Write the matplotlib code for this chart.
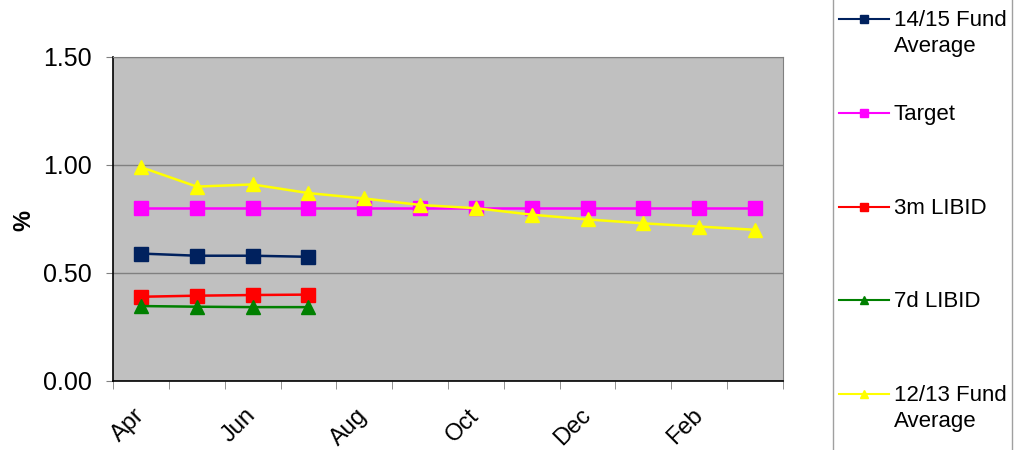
import matplotlib
matplotlib.use("Agg")
import matplotlib.pyplot as plt
from matplotlib.lines import Line2D
from matplotlib.patches import Rectangle
import numpy as np

plt.rcParams['font.family'] = ['Liberation Sans', 'DejaVu Sans']

months = ["Apr", "May", "Jun", "Jul", "Aug", "Sep", "Oct", "Nov", "Dec", "Jan", "Feb", "Mar"]
fund_1415 = [0.59, 0.58, 0.58, 0.575]
target = [0.80] * 12
libid_3m = [0.39, 0.395, 0.398, 0.40]
libid_7d = [0.347, 0.344, 0.342, 0.342]
fund_1213 = [0.99, 0.90, 0.91, 0.87, 0.845, 0.815, 0.80, 0.77, 0.748, 0.73, 0.715, 0.70]

labels = ["14/15 Fund\nAverage", "Target", "3m LIBID", "7d LIBID", "12/13 Fund\nAverage"]
series = [fund_1415, target, libid_3m, libid_7d, fund_1213]
colors = ["#00215E", "#FF00FF", "#FF0000", "#008000", "#FFFF00"]
markers = ["s", "s", "s", "^", "^"]

W, H = 1015, 450
fig = plt.figure(figsize=(W / 100, H / 100), dpi=100)
ax = fig.add_axes([113 / W, 1 - 381 / H, 670 / W, 324 / H])
ax.set_facecolor("#C0C0C0")

for vals, c, m in zip(series, colors, markers):
    x = np.arange(len(vals))
    ax.plot(x, vals, color=c, marker=m, markersize=10, linewidth=1.8,
            markeredgecolor=c)

ax.set_xlim(-0.5, 11.5)
ax.set_ylim(0, 1.5)
ax.set_yticks([0, 0.5, 1.0, 1.5])
ax.set_yticklabels(["0.00", "0.50", "1.00", "1.50"], fontsize=18)
ax.yaxis.grid(True, color="#808080", linewidth=1)
ax.set_axisbelow(True)

ax.set_xticks(np.arange(0, 12, 2))
ax.set_xticklabels(months[::2], fontsize=17, rotation=45, ha="right",
                   va="center", rotation_mode="anchor")
ax.set_xticks(np.arange(-0.5, 12, 1), minor=True)
ax.tick_params(axis="x", which="major", length=0, pad=22.5)
ax.tick_params(axis="x", which="minor", length=6, color="#808080", direction="out")
ax.tick_params(axis="y", length=5, color="#808080", pad=10.5)

for s in ["top", "right"]:
    ax.spines[s].set_color("#808080")
for s in ["left", "bottom"]:
    ax.spines[s].set_color("black")
    ax.spines[s].set_linewidth(1.2)

fig.text(24 / W, 1 - 220 / H, "%", rotation=90, ha="center", va="center",
         fontsize=17, fontweight="bold")

# legend drawn by hand so markers line up with the first text line
fig.add_artist(Rectangle((833 / W, -0.02), 179 / W, 1.04, transform=fig.transFigure,
                         facecolor="white", edgecolor="#A0A0A0", linewidth=1))
leg_y = [19, 113, 207, 300, 394]
for lab, c, m, y in zip(labels, colors, markers, leg_y):
    yf = 1 - y / H
    fig.add_artist(Line2D([839 / W, 889 / W], [yf, yf], transform=fig.transFigure,
                          color=c, linewidth=1.5))
    fig.add_artist(Line2D([864 / W], [yf], transform=fig.transFigure, color=c,
                          marker=m, markersize=5.5, markeredgecolor=c))
    fig.text(894 / W, yf + 9 / H, lab, ha="left", va="top", fontsize=16,
             linespacing=1.3)

fig.savefig("out.png", dpi=100)
